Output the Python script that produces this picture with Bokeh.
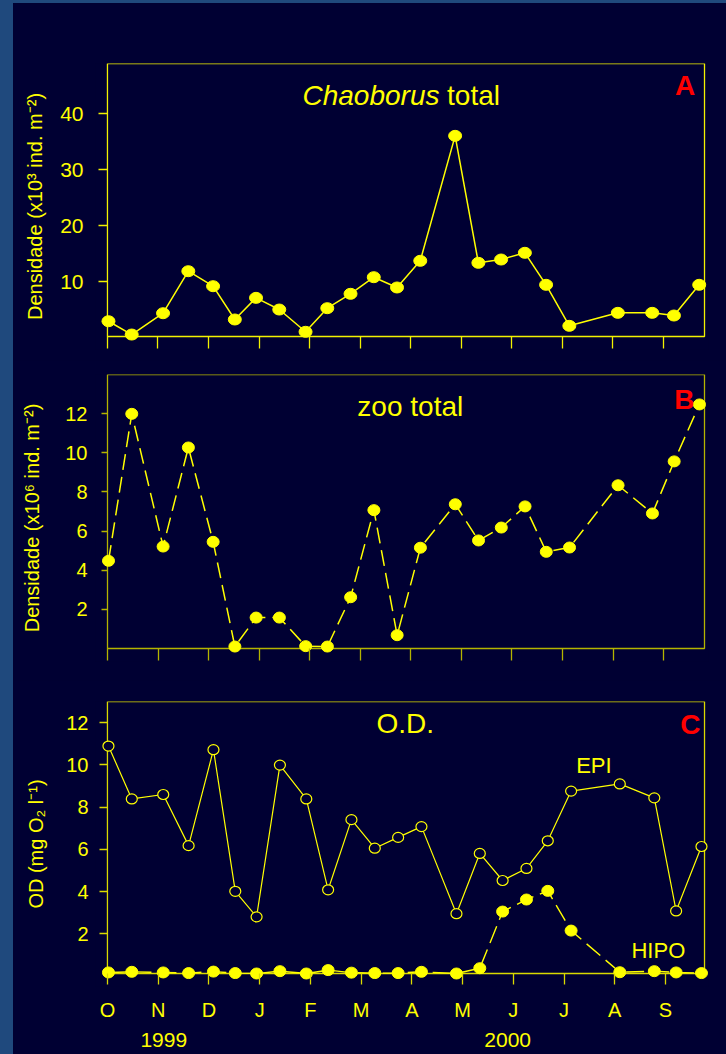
from bokeh.plotting import figure
from bokeh.models import FixedTicker, BoxAnnotation, Label, Div, Range1d, LinearAxis
from bokeh.layouts import row, column
from bokeh.embed import file_html
from bokeh.resources import INLINE

# ---------------- data ----------------
months = ["O", "N", "D", "J", "F", "M", "A", "M", "J", "J", "A", "S"]
years = ["1999", "2000"]
year_pos = [1.11, 7.89]          # month index where the year label is centred
# sampling dates, in months since 1 Oct 1999
sample_month = [0.02, 0.48, 1.10, 1.60, 2.09, 2.52, 2.94, 3.40, 3.92, 4.35, 4.81, 5.27,
                5.73, 6.19, 6.88, 7.34, 7.79, 8.26, 8.68, 9.14, 10.10, 10.78, 11.21, 11.71]
chaoborus = [2.93, 0.55, 4.36, 11.87, 9.19, 3.24, 7.11, 5.02, 1.04, 5.26, 7.83, 10.80,
             8.96, 13.73, 36.07, 13.37, 13.96, 15.16, 9.44, 2.11, 4.43, 4.43, 3.95, 9.44]
zoo = [4.48, 11.99, 5.21, 10.27, 5.45, 0.10, 1.58, 1.58, 0.12, 0.10, 2.62, 7.07,
       0.68, 5.15, 7.37, 5.52, 6.18, 7.26, 4.94, 5.16, 8.34, 6.90, 9.56, 12.47]
od_epi = [10.89, 8.39, 8.60, 6.18, 10.72, 4.02, 2.81, 9.99, 8.39, 4.09, 7.41, 6.06,
          6.57, 7.08, 2.96, 5.81, 4.53, 5.10, 6.41, 8.76, 9.10, 8.44, 3.09, 6.14]
od_hipo = [0.18, 0.21, 0.18, 0.15, 0.22, 0.15, 0.13, 0.24, 0.13, 0.29, 0.17, 0.15,
           0.15, 0.21, 0.13, 0.38, 3.06, 3.63, 4.04, 2.16, 0.19, 0.24, 0.18, 0.15]
yticks_a = [10, 20, 30, 40]
yticks_bc = [2, 4, 6, 8, 10, 12]

FONT = "Liberation Sans"
BG = "#000033"
STRIP = "#1F497D"
YEL = "#FFFF00"
RED = "#FF0000"
FIG_LEFT, FIG_RIGHT = 13, 726
PAD_L, PAD_R, PAD_B = 12, 4, 13


def tick_axis(loc, ticks, length, col):
    # tick-only axis drawn exactly on the box edge (ticks point outwards)
    return LinearAxis(fixed_location=loc, ticker=FixedTicker(ticks=ticks),
                      major_tick_in=length, major_tick_out=0,
                      minor_tick_in=0, minor_tick_out=0,
                      axis_line_color=None, major_tick_line_color=col,
                      major_tick_line_width=1.3,
                      major_label_overrides={t: "" for t in ticks},
                      major_label_text_font_size="0px", major_label_standoff=0)


def panel(fig_top, fig_h, box_l, box_r, box_t, box_b, x_hi, y_lo, y_hi, frame_col,
          ytick_len, xtick_len, ylab_right, ylab_als, ytick_font, ylabel, yticks):
    fig_bottom = fig_top + fig_h
    ppx = (box_r - box_l) / x_hi
    ppy = (box_b - box_t) / (y_hi - y_lo)
    p = figure(width=FIG_RIGHT - FIG_LEFT, height=fig_h,
               x_range=Range1d(-PAD_L / ppx, x_hi + PAD_R / ppx),
               y_range=Range1d(y_lo - PAD_B / ppy, y_hi),
               min_border_left=box_l - PAD_L - FIG_LEFT,
               min_border_right=FIG_RIGHT - (box_r + PAD_R),
               min_border_top=box_t - fig_top,
               min_border_bottom=fig_bottom - (box_b + PAD_B),
               output_backend="svg", toolbar_location=None,
               background_fill_color=BG, border_fill_color=BG,
               outline_line_color=None)
    p.xgrid.visible = False
    p.ygrid.visible = False
    p.add_layout(BoxAnnotation(left=0, right=x_hi, bottom=y_lo, top=y_hi,
                               fill_alpha=0, line_color=frame_col, line_alpha=1,
                               line_width=1.3, level="underlay"))
    # label-carrying axes at the frame edge (no lines/ticks of their own)
    xa = p.xaxis[0]
    xa.ticker = FixedTicker(ticks=list(range(len(months))))
    xa.axis_line_color = None
    xa.major_tick_out = 0
    xa.major_tick_in = 0
    xa.minor_tick_out = 0
    xa.minor_tick_in = 0
    ya = p.yaxis[0]
    ya.ticker = FixedTicker(ticks=yticks)
    ya.axis_line_color = None
    ya.major_tick_out = 0
    ya.major_tick_in = 0
    ya.minor_tick_out = 0
    ya.minor_tick_in = 0
    ya.major_label_text_color = YEL
    ya.major_label_text_font = FONT
    ya.major_label_text_font_size = ytick_font
    ya.major_label_standoff = (box_l - PAD_L) - ylab_right
    ya.axis_label = ylabel
    ya.axis_label_text_color = YEL
    ya.axis_label_text_font = FONT
    ya.axis_label_text_font_style = "normal"
    ya.axis_label_text_font_size = "20px"
    ya.axis_label_standoff = ylab_als
    # tick marks on the box edges
    p.add_layout(tick_axis(0, yticks, ytick_len, frame_col), "right")
    p.add_layout(tick_axis(y_lo, list(range(len(months))), xtick_len, frame_col), "above")
    return p, xa, ppy


def label(p, x, y, text, size, color=YEL, style="normal", align="center"):
    p.add_layout(Label(x=x, y=y, text=text, text_color=color, text_font=FONT,
                       text_font_size=size, text_font_style=style,
                       text_align=align, text_baseline="alphabetic"))


# ---------------- panel A ----------------
pA, xaA, ppyA = panel(3, 357, 106, 705, 63, 336, 11.815, 0.2, 49.0, "#F2F200",
                      9, 12, 82, 11, "21px", "Densidade (x10\u00b3 ind. m\u207b\u00b2)", yticks_a)
xaA.visible = False
pA.line(sample_month, chaoborus, line_color=YEL, line_width=1.5)
pA.ellipse(sample_month, chaoborus, width=13, height=11, width_units="screen",
           height_units="screen", fill_color=YEL, line_color=YEL)
label(pA, 6.57, 43.25, "Chaoborus", "28px", style="italic", align="right")
label(pA, 6.72, 43.25, "total", "28px", align="left")
label(pA, 11.43, 45.1, "A", "28px", color=RED, style="bold")

# ---------------- panel B ----------------
pB, xaB, ppyB = panel(360, 320, 107, 704, 374, 648, 11.81, 0.0, 14.0, "#B4B400",
                      6, 12, 87, 19, "20px", "Densidade (x10\u2076 ind. m\u207b\u00b2)", yticks_bc)
xaB.visible = False
pB.line(sample_month, zoo, line_color=YEL, line_width=1.5, line_dash="16 7")
pB.ellipse(sample_month, zoo, width=12, height=11, width_units="screen",
           height_units="screen", fill_color=YEL, line_color=YEL)
label(pB, 5.99, 12.35, "zoo total", "28px")
label(pB, 11.41, 12.7, "B", "28px", color=RED, style="bold")

# ---------------- panel C ----------------
pC, xaC, ppyC = panel(680, 374, 104, 704, 701, 973, 11.77, 0.13, 13.0, "#DADA00",
                      8, 11, 85, 16, "20px", "OD (mg O\u2082 l\u207b\u00b9)", yticks_bc)
xaC.major_label_overrides = {i: m for i, m in enumerate(months)}
xaC.major_label_text_color = YEL
xaC.major_label_text_font = FONT
xaC.major_label_text_font_size = "20px"
xaC.major_label_standoff = 998 - (973 + PAD_B)
pC.line(sample_month, od_epi, line_color=YEL, line_width=1.2)
pC.ellipse(sample_month, od_epi, width=11, height=10, width_units="screen",
           height_units="screen", fill_color=BG, line_color=YEL, line_width=1.2)
pC.line(sample_month, od_hipo, line_color=YEL, line_width=1.4, line_dash="18 7")
pC.ellipse(sample_month, od_hipo, width=12, height=11, width_units="screen",
           height_units="screen", fill_color=YEL, line_color=YEL)
label(pC, 5.87, 11.97, "O.D.", "28px")
label(pC, 11.49, 11.93, "C", "28px", color=RED, style="bold")
label(pC, 9.59, 9.96, "EPI", "22px")
label(pC, 10.86, 1.22, "HIPO", "22px")
# year labels: a second, line-less axis below the month axis
year_axis = LinearAxis(ticker=FixedTicker(ticks=year_pos),
                       major_label_overrides={pos: yr for pos, yr in zip(year_pos, years)},
                       axis_line_color=None, major_tick_in=0, major_tick_out=0,
                       minor_tick_in=0, minor_tick_out=0,
                       major_label_text_color=YEL, major_label_text_font=FONT,
                       major_label_text_font_size="21px", major_label_standoff=9)
pC.add_layout(year_axis, "below")

band = Div(width=FIG_RIGHT - FIG_LEFT, height=3, margin=0, styles={"background-color": STRIP})
strip = Div(width=FIG_LEFT, height=1054, margin=0, styles={"background-color": STRIP})
col = column(band, pA, pB, pC, spacing=0, styles={"background-color": BG})
layout = row(strip, col, spacing=0, styles={"background-color": STRIP})

open("out.html", "w").write(file_html(layout, INLINE))
